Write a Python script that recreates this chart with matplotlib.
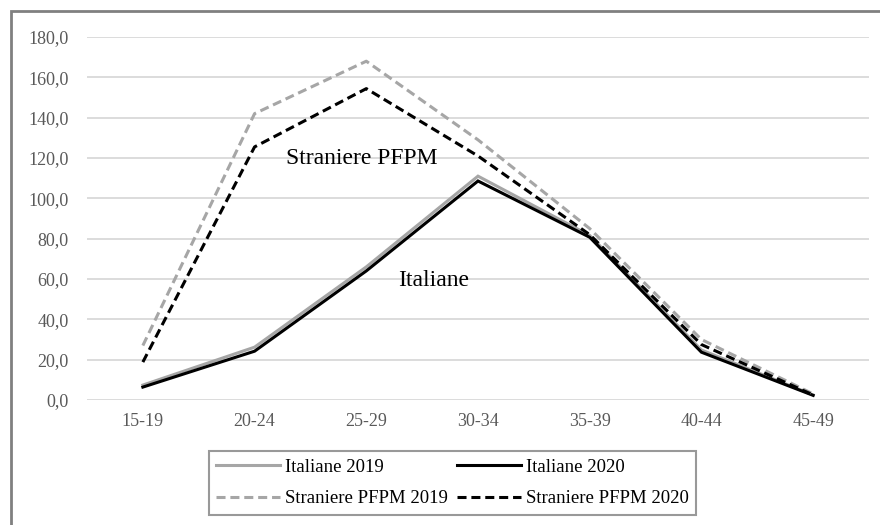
import matplotlib
matplotlib.use("Agg")
import matplotlib.pyplot as plt
from matplotlib.patches import Rectangle
from matplotlib.ticker import FuncFormatter

plt.rcParams['font.family'] = ['Liberation Serif', 'DejaVu Serif']
plt.rcParams['lines.scale_dashes'] = False

categories = ["15-19", "20-24", "25-29", "30-34", "35-39", "40-44", "45-49"]
italiane_2019 = [7.4, 26.2, 66.0, 111.0, 81.6, 24.8, 2.5]
italiane_2020 = [6.4, 24.2, 64.0, 108.6, 80.7, 23.7, 2.3]
straniere_2019 = [27.0, 142.0, 168.0, 129.0, 85.0, 30.0, 3.0]
straniere_2020 = [18.8, 125.5, 154.4, 121.0, 82.0, 27.5, 2.5]
labels = ["Italiane 2019", "Italiane 2020", "Straniere PFPM 2019", "Straniere PFPM 2020"]

fig = plt.figure(figsize=(8.8, 5.25), dpi=100)
W, H = 880, 525
ax = fig.add_axes([87 / W, 1 - 400 / H, (869 - 87) / W, (400 - 37) / H])

x = list(range(len(categories)))
gray = "#a6a6a6"
lw = 2.2
l1, = ax.plot(x, italiane_2019, color=gray, lw=lw, solid_joinstyle='miter', label=labels[0])
l2, = ax.plot(x, italiane_2020, color="black", lw=lw, solid_joinstyle='miter', label=labels[1])
l3, = ax.plot(x, straniere_2019, color=gray, lw=lw, dashes=(6.5, 3.5), label=labels[2])
l4, = ax.plot(x, straniere_2020, color="black", lw=lw, dashes=(6.5, 3.5), label=labels[3])

ax.set_xlim(-0.5, len(categories) - 0.5)
ax.set_ylim(0, 180)
ax.set_yticks(range(0, 181, 20))
ax.yaxis.set_major_formatter(FuncFormatter(lambda v, p: f"{v:.1f}".replace(".", ",")))
ax.set_xticks(x)
ax.set_xticklabels(categories)
ax.grid(axis='y', color="#d9d9d9", lw=1.3)
ax.set_axisbelow(True)
for s in ax.spines.values():
    s.set_visible(False)
ax.tick_params(axis='both', length=0, labelsize=13, colors="#595959")
ax.tick_params(axis='y', pad=13)
ax.tick_params(axis='x', pad=9)

ax.text(1.96, 120, "Straniere PFPM", fontsize=17, ha='center', va='center', color='black')
ax.text(2.6, 59.5, "Italiane", fontsize=17, ha='center', va='center', color='black')

# matplotlib fills legend column-wise; order so rows read as in the reference
leg = fig.legend(handles=[l1, l3, l2, l4], ncol=2, loc='center',
                 bbox_to_anchor=(452.5 / W, 1 - 483 / H), fontsize=13.5,
                 frameon=True, fancybox=False, handlelength=3.4, handletextpad=0.27,
                 columnspacing=0.5, labelspacing=0.75, borderpad=0.4, borderaxespad=0)
leg.get_frame().set_edgecolor("#808080")
leg.get_frame().set_linewidth(1.5)

fig.patches.append(Rectangle((11 / W, -0.1), 1.2, 1.1 - 11 / H, transform=fig.transFigure,
                             fill=False, edgecolor="#808080", lw=2, figure=fig))

fig.savefig("out.png", dpi=100)
